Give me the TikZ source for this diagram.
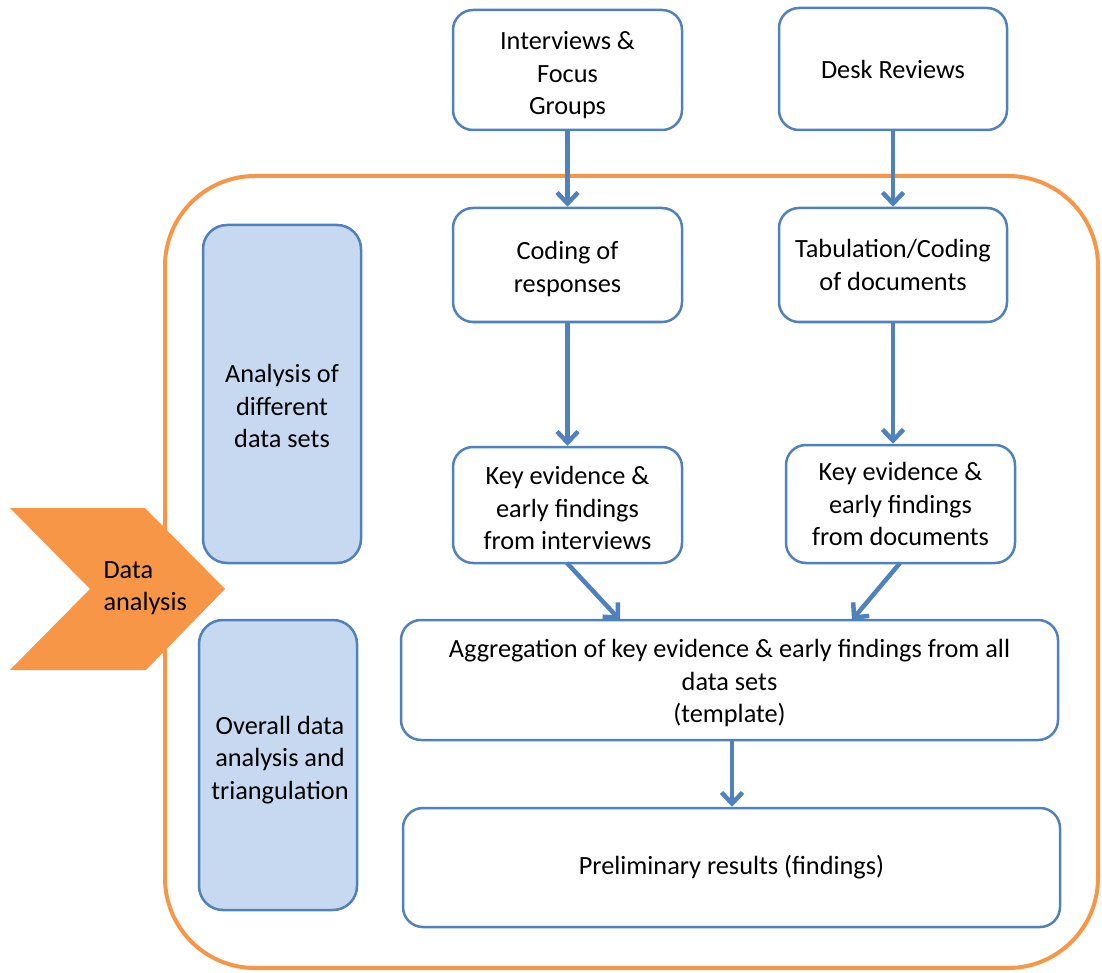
\documentclass[tikz,border=0pt]{standalone}
\usepackage{fontspec}
\setmainfont{Carlito}
\usetikzlibrary{arrows.meta,positioning}
\definecolor{bblue}{HTML}{4F81BD}
\definecolor{lblue}{HTML}{C6D9F0}
\definecolor{orng}{HTML}{F79646}
\newcommand\tpad[1]{\rule{0pt}{#1pt}}
\tikzset{
  wbox/.style={draw=bblue, line width=2.5pt, rounded corners=20pt, fill=white, align=center, inner sep=2pt},
  lbox/.style={draw=bblue, line width=2.5pt, rounded corners=24pt, fill=lblue, align=center, minimum width=158pt},
  flow/.style={draw=bblue, line width=4.5pt, -{Straight Barb[length=11pt,width=21pt,line width=4.5pt]}},
  every node/.style={font=\fontsize{26.3}{32.5}\selectfont}
}
\begin{document}
\begin{tikzpicture}[x=1pt,y=-1pt]
\useasboundingbox (0,0) rectangle (1102,973);
% outer frame
\draw[orng, line width=4pt, rounded corners=90pt] (165,176) rectangle (1098,968);
% left blue boxes
\node[lbox, minimum height=338pt] (ana) at (282,394) {};
\node[align=center] (anat) at (282,406) {Analysis of\\different\\data sets};
\node[lbox, minimum height=290pt] (ovr) at (278,765) {};
\node[align=center] (ovrt) at (280,760) {Overall data\\analysis and\\triangulation};
% chevron
\fill[orng] (10,508) -- (145,508) -- (225,589) -- (146,670) -- (10,670) -- (90,589) -- cycle;
\node[align=left, anchor=west] (da) at (100,588) {Data\\analysis};
% white boxes
\node[wbox, minimum width=229pt, minimum height=120pt] (int) at (567.5,70) {\tpad{29}Interviews \&\\Focus\\Groups};
\node[wbox, minimum width=228pt, minimum height=122pt] (desk) at (893,69) {Desk Reviews};
\node[wbox, minimum width=229pt, minimum height=114pt] (cod) at (567.5,265) {\tpad{26.6}Coding of\\responses};
\node[wbox, minimum width=228pt, minimum height=114pt] (tab) at (893,265) {Tabulation/Coding\\of documents};
\node[wbox, minimum width=229pt, minimum height=116pt] (kei) at (567.5,505) {\tpad{24.6}Key evidence \&\\early findings\\from interviews};
\node[wbox, minimum width=229pt, minimum height=118pt] (ked) at (900.5,504) {Key evidence \&\\early findings\\from documents};
\node[wbox, minimum width=657pt, minimum height=120pt] (agg) at (729.5,680) {\tpad{24.6}Aggregation of key evidence \& early findings from all\\data sets\\(template)};
\node[wbox, minimum width=657pt, minimum height=119pt] (pre) at (731.5,867.5) {Preliminary results (findings)};
% arrows
\draw[flow] (int.south) -- (cod.north);
\draw[flow] (desk.south) -- (tab.north);
\draw[flow] (cod.south) -- (kei.north);
\draw[flow] (tab.south) -- (tab.south |- ked.north);
\coordinate (a1) at (567,563);
\coordinate (a2) at (620,620);
\coordinate (b1) at (900,563);
\coordinate (b2) at (852,620);
\draw[flow] (a1) -- (a2);
\draw[flow] (b1) -- (b2);
\draw[flow] (agg.south -| 732,0) -- (pre.north -| 732,0);
\end{tikzpicture}
\end{document}
